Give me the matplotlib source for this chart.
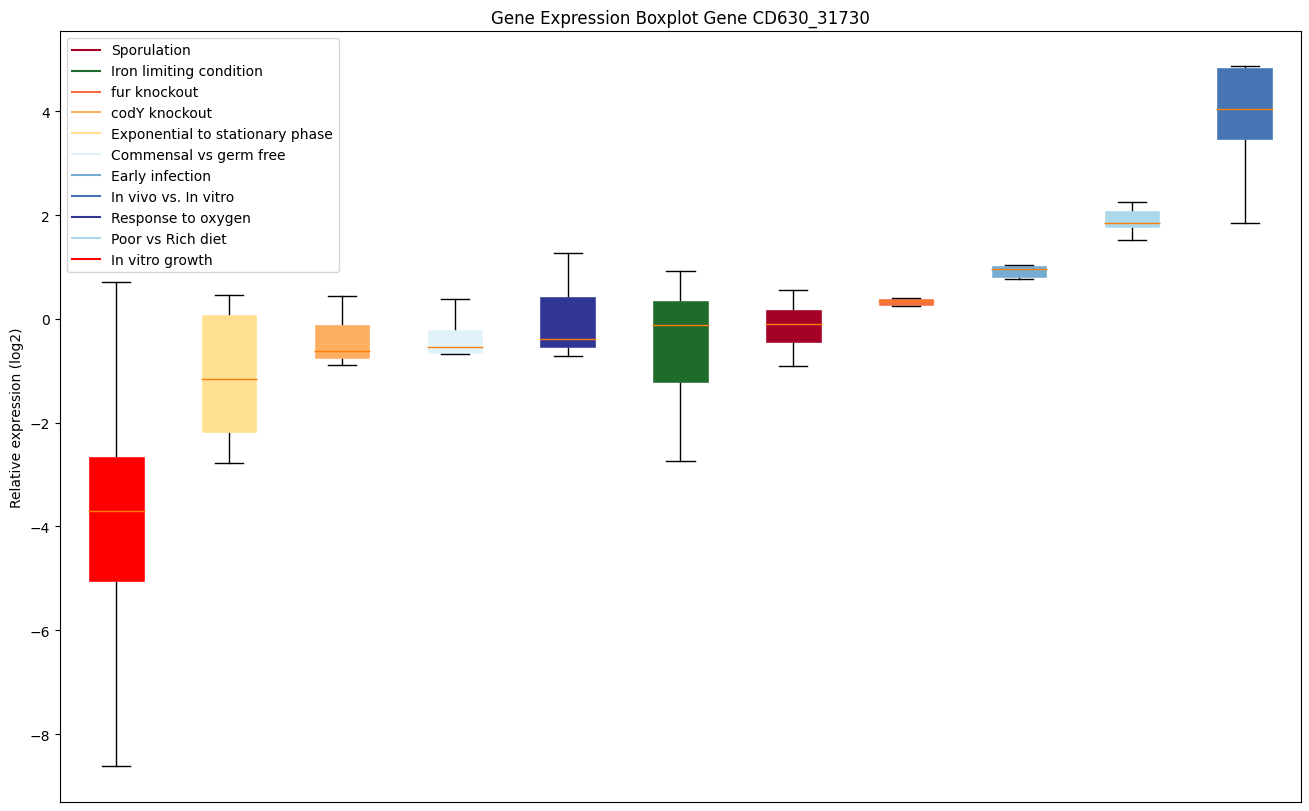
import matplotlib.pyplot as plt
from matplotlib.lines import Line2D

# conditions, in box order (left to right)
conditions = ["In vitro growth", "Exponential to stationary phase", "codY knockout",
              "Commensal vs germ free", "Response to oxygen", "Iron limiting condition",
              "Sporulation", "fur knockout", "Early infection", "Poor vs Rich diet",
              "In vivo vs. In vitro"]
box_colors = ["#FF0000", "#FEE090", "#FDAE61", "#E0F3F8", "#313695", "#1F6B2B",
              "#A50026", "#F46D43", "#74ADD1", "#ABD9E9", "#4575B4"]

whislo = [-8.61, -2.77, -0.89, -0.67, -0.71, -2.74, -0.91, 0.25, 0.77, 1.52, 1.85]
q1 = [-5.07, -2.20, -0.77, -0.67, -0.56, -1.23, -0.46, 0.24, 0.78, 1.75, 3.45]
med = [-3.70, -1.16, -0.62, -0.54, -0.39, -0.12, -0.10, 0.35, 0.96, 1.84, 4.05]
q3 = [-2.64, 0.10, -0.10, -0.19, 0.44, 0.37, 0.19, 0.40, 1.04, 2.10, 4.86]
whishi = [0.71, 0.46, 0.44, 0.39, 1.27, 0.92, 0.56, 0.40, 1.04, 2.25, 4.87]

# legend order
legend_labels = ["Sporulation", "Iron limiting condition", "fur knockout", "codY knockout",
                 "Exponential to stationary phase", "Commensal vs germ free", "Early infection",
                 "In vivo vs. In vitro", "Response to oxygen", "Poor vs Rich diet", "In vitro growth"]

stats = []
for i, name in enumerate(conditions):
    stats.append({"label": name, "whislo": whislo[i], "q1": q1[i], "med": med[i],
                  "q3": q3[i], "whishi": whishi[i], "fliers": []})

fig, ax = plt.subplots(figsize=(13.09, 8.12), dpi=100)
bp = ax.bxp(stats, patch_artist=True, showfliers=False,
            medianprops={"color": "#FF7F0E", "zorder": 3})
for patch, c in zip(bp["boxes"], box_colors):
    patch.set_facecolor(c)
    patch.set_edgecolor("white")

color_of = dict(zip(conditions, box_colors))
handles = [Line2D([0], [0], color=color_of[l]) for l in legend_labels]
ax.legend(handles, legend_labels, loc="upper left")

ax.set_xticks([])
ax.set_ylim(-9.31, 5.55)
ax.set_ylabel("Relative expression (log2)")
ax.set_title("Gene Expression Boxplot Gene CD630_31730")
fig.subplots_adjust(left=0.0458, right=0.9939, top=0.9606, bottom=0.0111)
plt.savefig("out.png", dpi=100)
